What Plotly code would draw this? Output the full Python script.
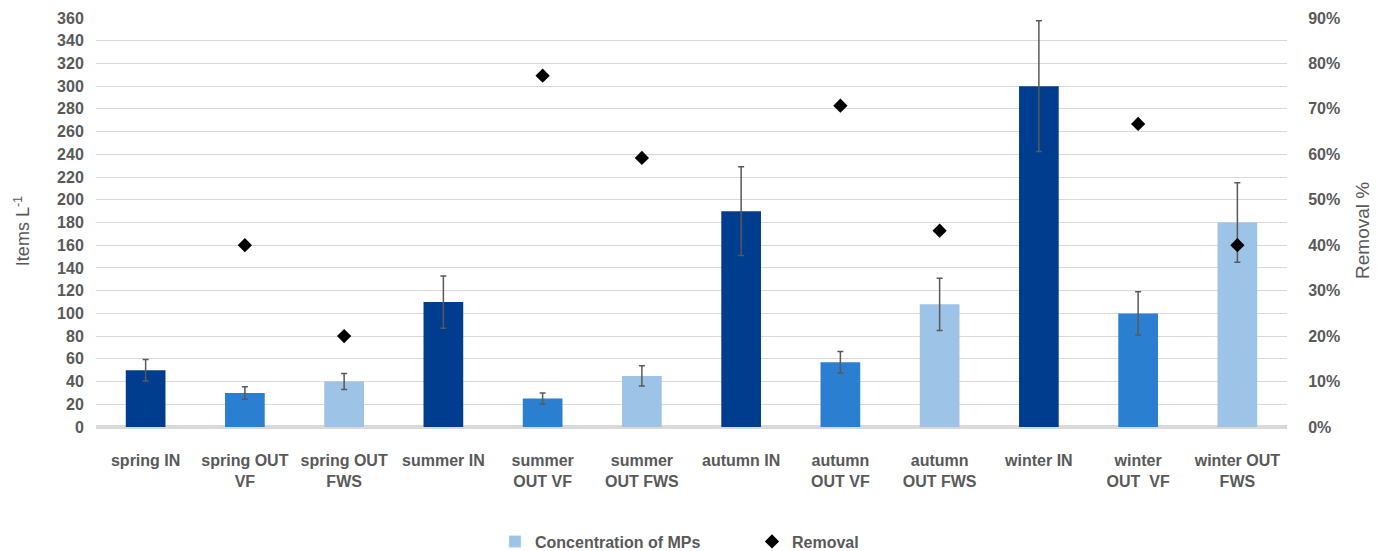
import plotly.graph_objects as go

categories = ["spring IN", "spring OUT<br>VF", "spring OUT<br>FWS", "summer IN",
              "summer<br>OUT VF", "summer<br>OUT FWS", "autumn IN", "autumn<br>OUT VF",
              "autumn<br>OUT FWS", "winter IN", "winter<br>OUT  VF", "winter OUT<br>FWS"]
concentration = [50, 30, 40, 110, 25, 45, 190, 57, 108, 300, 100, 180]
conc_error = [9.5, 5.5, 7, 23, 5, 9, 39, 9.5, 23, 57.5, 19, 35]
removal = [None, 0.40, 0.20, None, 0.773, 0.592, None, 0.707, 0.432, None, 0.667, 0.40]
bar_colors = ["#003D8F", "#2B7FD0", "#9DC3E6"] * 4

grey = "#595959"
clear = "rgba(0,0,0,0)"
font_family = "Liberation Sans, Arial, sans-serif"

fig = go.Figure()
fig.add_trace(go.Bar(
    x=categories, y=concentration, marker=dict(color=bar_colors, line=dict(width=0)),
    error_y=dict(type="data", array=conc_error, color=grey, thickness=1.5, width=3),
    showlegend=False, name="Concentration of MPs"))
fig.add_trace(go.Bar(
    x=[categories[0]], y=[None], marker=dict(color="#9DC3E6"),
    name="Concentration of MPs", showlegend=True))
fig.add_trace(go.Scatter(
    x=categories, y=removal, mode="markers", yaxis="y2", name="Removal",
    marker=dict(symbol="diamond", size=11, color="black")))

fig.update_layout(
    width=1384, height=551,
    margin=dict(l=88, r=105, t=10, b=132, autoexpand=False),
    paper_bgcolor="white", plot_bgcolor="white",
    bargap=0.6, barmode="overlay",
    font=dict(family=font_family, color=grey),
    xaxis=dict(range=[-0.5, len(categories) - 0.5],
               tickfont=dict(size=16, weight="bold", color=grey), showgrid=False,
               showline=False, ticks="outside", ticklen=19, tickcolor=clear, tickangle=0),
    yaxis=dict(range=[0, 360], dtick=20, showgrid=True, gridcolor="#D9D9D9", gridwidth=1,
               zeroline=True, zerolinecolor="#D9D9D9", zerolinewidth=4,
               tickfont=dict(size=16, weight="bold", color=grey),
               ticks="outside", ticklen=8, tickcolor=clear),
    yaxis2=dict(range=[0, 0.9], dtick=0.1, tickformat=".0%", overlaying="y", side="right",
                showgrid=False, zeroline=False,
                tickfont=dict(size=16, weight="bold", color=grey),
                ticks="outside", ticklen=17, tickcolor=clear),
    legend=dict(orientation="h", x=0.335, xanchor="left", y=-0.28, yanchor="middle",
                font=dict(size=16, weight="bold", color=grey),
                traceorder="normal", entrywidth=212, entrywidthmode="pixels"),
    annotations=[
        dict(text="Items L<sup>-1</sup>", xref="paper", yref="paper", x=-0.0621, y=0.479,
             textangle=-90, showarrow=False, xanchor="center", yanchor="middle",
             font=dict(size=18, color=grey)),
        dict(text="Removal %", xref="paper", yref="paper", x=1.0638, y=0.4817,
             textangle=-90, showarrow=False, xanchor="center", yanchor="middle",
             font=dict(size=19, color=grey)),
    ],
)

fig.write_html("out.html")
